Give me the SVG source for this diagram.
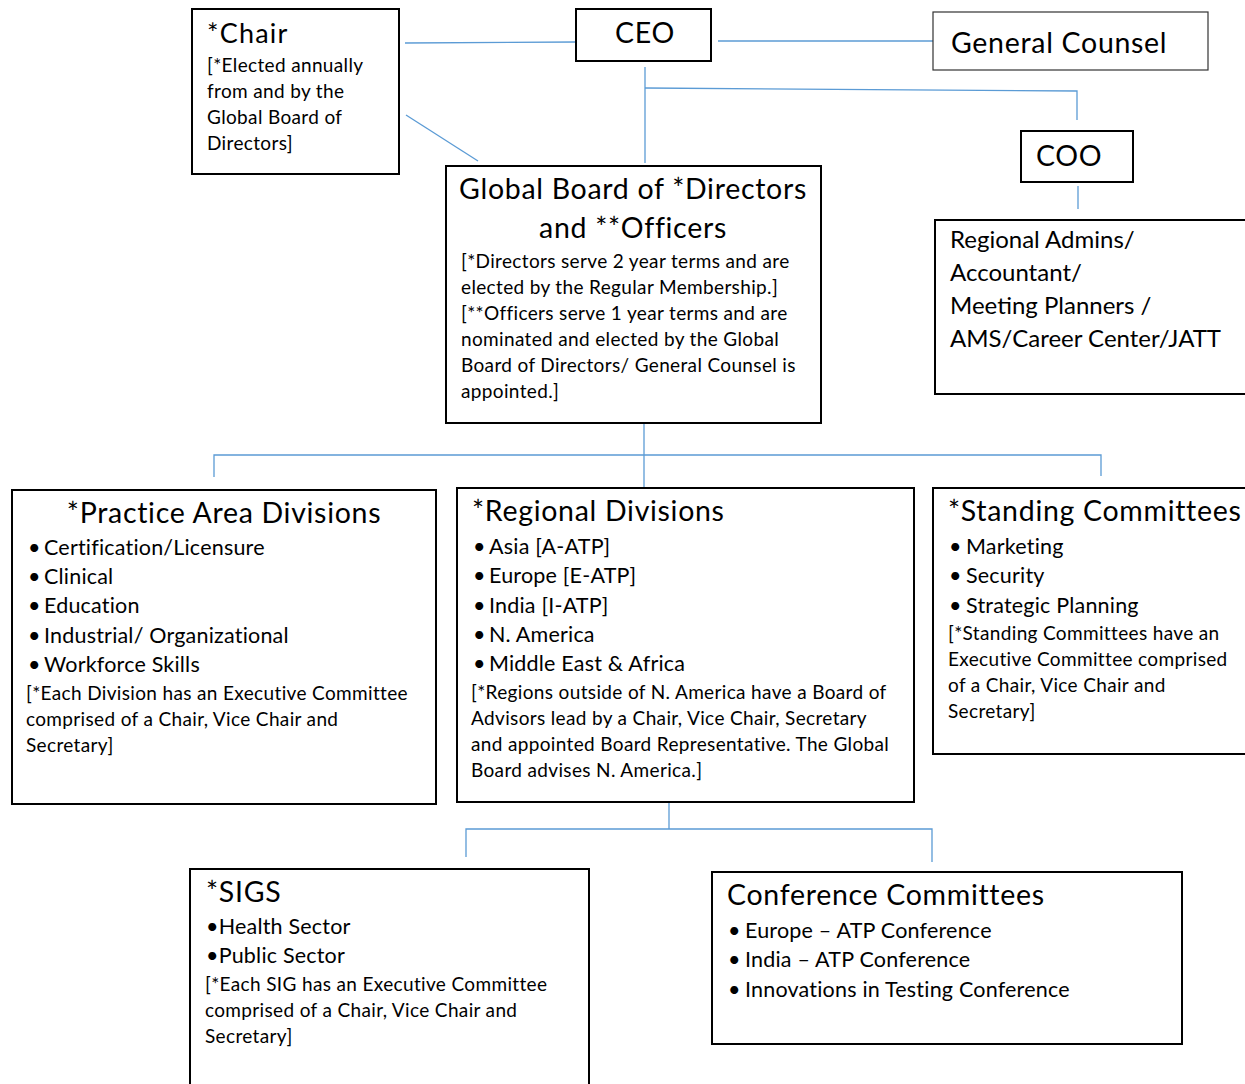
<svg xmlns="http://www.w3.org/2000/svg" width="1245" height="1084" viewBox="0 0 1245 1084">
<style>
text{font-family:Lato,"Open Sans","Liberation Sans",sans-serif;fill:#000}
.box{fill:#fff;stroke:#000;stroke-width:2}
.thin{fill:#fff;stroke:#333;stroke-width:1.2}
.ln{stroke:#5b9bd5;stroke-width:1.3;fill:none}
.t28{font-size:28.5px;letter-spacing:0.7px}
.t26{font-size:27px;letter-spacing:1.2px}
.t24{font-size:24px}
.t22{font-size:21.5px;letter-spacing:0.2px}
.t18{font-size:19px;letter-spacing:0.35px}
</style>
<rect width="1245" height="1084" fill="#fff"/>
<g id="connectors">
<line class="ln" x1="405" y1="43" x2="576" y2="42"/>
<line class="ln" x1="718" y1="41" x2="933" y2="41"/>
<line class="ln" x1="645" y1="67" x2="645" y2="163"/>
<polyline class="ln" points="645,88 1077,91 1077,120"/>
<line class="ln" x1="1078" y1="186" x2="1078" y2="209"/>
<line class="ln" x1="406" y1="115" x2="478" y2="161"/>
<line class="ln" x1="644" y1="424" x2="644" y2="488"/>
<polyline class="ln" points="214,477 214,455 1101,455 1101,476"/>
<line class="ln" x1="669" y1="803" x2="669" y2="829"/>
<polyline class="ln" points="466,857 466,829 932,829 932,862"/>
</g>
<g id="chair">
<rect class="box" x="192" y="9" width="207" height="165"/>
<text class="t26" x="207" y="43">*Chair</text>
<text class="t18" x="207" y="72">[*Elected annually</text>
<text class="t18" x="207" y="98">from and by the</text>
<text class="t18" x="207" y="124">Global Board of</text>
<text class="t18" x="207" y="150">Directors]</text>
</g>
<g id="ceo">
<rect class="box" x="576" y="9" width="135" height="52"/>
<text class="t28" x="645" y="43" text-anchor="middle">CEO</text>
</g>
<g id="general-counsel">
<rect class="thin" x="933" y="12" width="275" height="58"/>
<text class="t28" x="951" y="53">General Counsel</text>
</g>
<g id="coo">
<rect class="box" x="1021" y="131" width="112" height="51"/>
<text class="t28" x="1036" y="166">COO</text>
</g>
<g id="regional-admins">
<rect class="box" x="935" y="220" width="320" height="174"/>
<text class="t24" x="950" y="248">Regional Admins/</text>
<text class="t24" x="950" y="281">Accountant/</text>
<text class="t24" x="950" y="314">Meeting Planners /</text>
<text class="t24" x="950" y="347">AMS/Career Center/JATT</text>
</g>
<g id="global-board">
<rect class="box" x="446" y="166" width="375" height="257"/>
<text class="t28" x="633" y="199" text-anchor="middle">Global Board of *Directors</text>
<text class="t28" x="633" y="238" text-anchor="middle">and **Officers</text>
<text class="t18" x="461" y="268">[*Directors serve 2 year terms and are</text>
<text class="t18" x="461" y="294">elected by the Regular Membership.]</text>
<text class="t18" x="461" y="320">[**Officers serve 1 year terms and are</text>
<text class="t18" x="461" y="346">nominated and elected by the Global</text>
<text class="t18" x="461" y="372">Board of Directors/ General Counsel is</text>
<text class="t18" x="461" y="398">appointed.]</text>
</g>
<g id="practice-area">
<rect class="box" x="12" y="490" width="424" height="314"/>
<text class="t28" x="224" y="523" text-anchor="middle">*Practice Area Divisions</text>
<g class="t22">
<text x="28" y="555">•</text><text x="44" y="555">Certification/Licensure</text>
<text x="28" y="584">•</text><text x="44" y="584">Clinical</text>
<text x="28" y="613">•</text><text x="44" y="613">Education</text>
<text x="28" y="643">•</text><text x="44" y="643">Industrial/ Organizational</text>
<text x="28" y="672">•</text><text x="44" y="672">Workforce Skills</text>
</g>
<text class="t18" x="26" y="700">[*Each Division has an Executive Committee</text>
<text class="t18" x="26" y="726">comprised of a Chair, Vice Chair and</text>
<text class="t18" x="26" y="752">Secretary]</text>
</g>
<g id="regional-divisions">
<rect class="box" x="457" y="488" width="457" height="314"/>
<text class="t28" x="472" y="521">*Regional Divisions</text>
<g class="t22">
<text x="473" y="554">•</text><text x="489" y="554">Asia [A-ATP]</text>
<text x="473" y="583">•</text><text x="489" y="583">Europe [E-ATP]</text>
<text x="473" y="613">•</text><text x="489" y="613">India [I-ATP]</text>
<text x="473" y="642">•</text><text x="489" y="642">N. America</text>
<text x="473" y="671">•</text><text x="489" y="671">Middle East &amp; Africa</text>
</g>
<text class="t18" x="471" y="699">[*Regions outside of N. America have a Board of</text>
<text class="t18" x="471" y="725">Advisors lead by a Chair, Vice Chair, Secretary</text>
<text class="t18" x="471" y="751">and appointed Board Representative. The Global</text>
<text class="t18" x="471" y="777">Board advises N. America.]</text>
</g>
<g id="standing-committees">
<rect class="box" x="933" y="488" width="322" height="266"/>
<text class="t28" x="948" y="521">*Standing Committees</text>
<g class="t22">
<text x="949" y="554">•</text><text x="966" y="554">Marketing</text>
<text x="949" y="583">•</text><text x="966" y="583">Security</text>
<text x="949" y="613">•</text><text x="966" y="613">Strategic Planning</text>
</g>
<text class="t18" x="948" y="640">[*Standing Committees have an</text>
<text class="t18" x="948" y="666">Executive Committee comprised</text>
<text class="t18" x="948" y="692">of a Chair, Vice Chair and</text>
<text class="t18" x="948" y="718">Secretary]</text>
</g>
<g id="sigs">
<rect class="box" x="190" y="869" width="399" height="230"/>
<text class="t28" x="206" y="902">*SIGS</text>
<text class="t22" x="206" y="934">•Health Sector</text>
<text class="t22" x="206" y="963">•Public Sector</text>
<text class="t18" x="205" y="991">[*Each SIG has an Executive Committee</text>
<text class="t18" x="205" y="1017">comprised of a Chair, Vice Chair and</text>
<text class="t18" x="205" y="1043">Secretary]</text>
</g>
<g id="conference-committees">
<rect class="box" x="712" y="872" width="470" height="172"/>
<text class="t28" x="727" y="905">Conference Committees</text>
<g class="t22">
<text x="728" y="938">•</text><text x="745" y="938">Europe – ATP Conference</text>
<text x="728" y="967">•</text><text x="745" y="967">India – ATP Conference</text>
<text x="728" y="997">•</text><text x="745" y="997">Innovations in Testing Conference</text>
</g>
</g>
</svg>
